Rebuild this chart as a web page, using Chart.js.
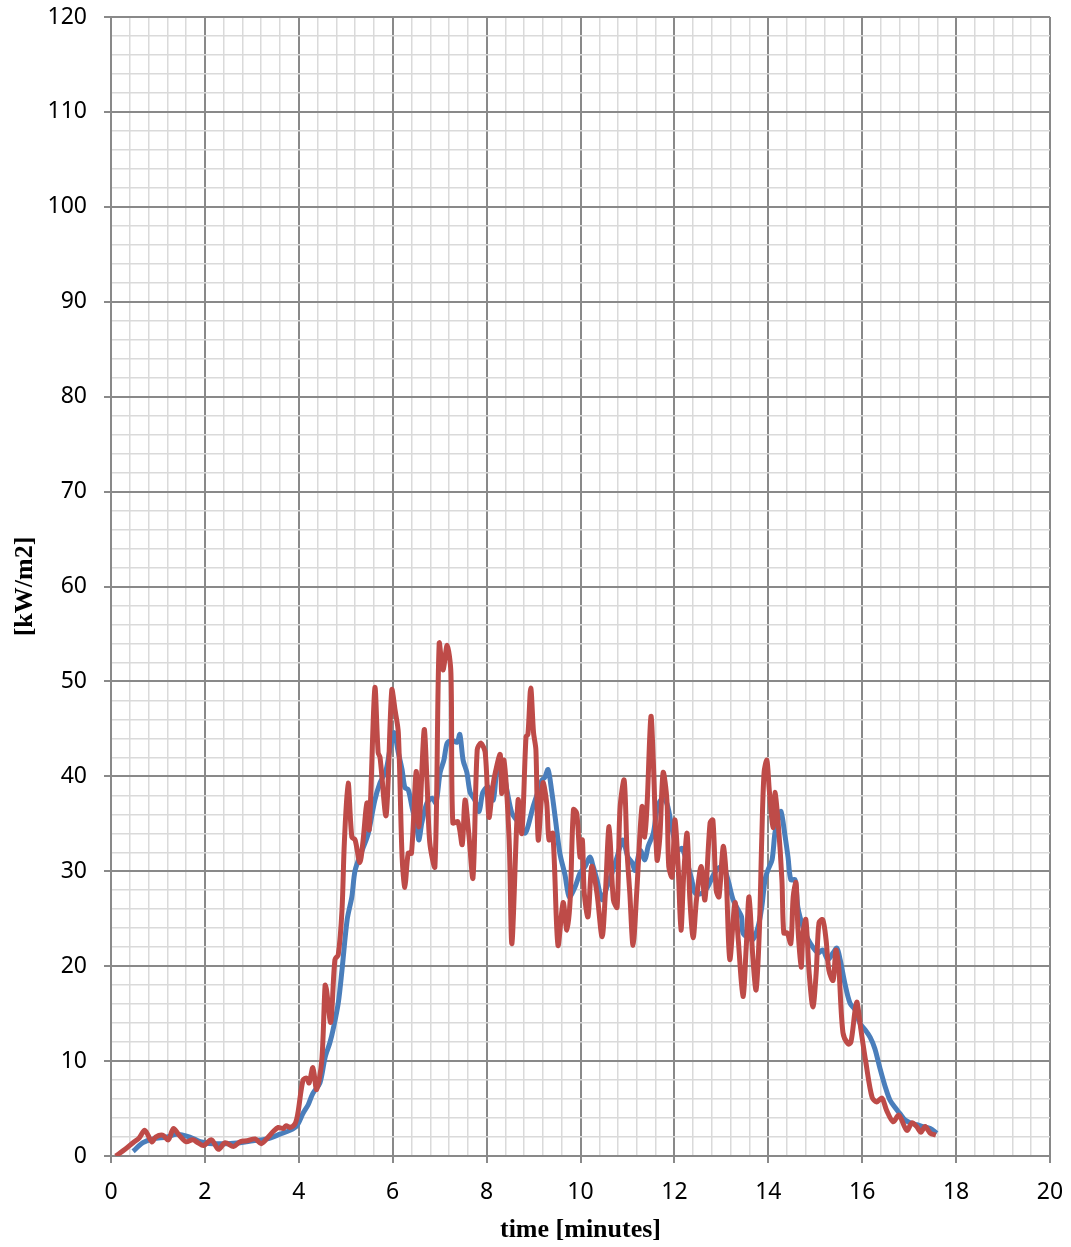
<!DOCTYPE html>
<html>
<head>
<meta charset="utf-8">
<script src="https://cdn.jsdelivr.net/npm/chart.js@4.4.1/dist/chart.umd.min.js"></script>
<style>
  body { margin: 0; background: #fff; }
</style>
</head>
<body>
<canvas id="heatChart" width="1071" height="1247"></canvas>
<script>
// red series (drawn on top)
const redTime = [0.10, 0.30, 0.47, 0.60, 0.72, 0.87, 0.95, 1.10, 1.22, 1.33, 1.45, 1.60, 1.74, 1.85, 1.97, 2.14, 2.29, 2.43, 2.61, 2.75, 2.90, 3.07, 3.20, 3.35, 3.46, 3.56, 3.67, 3.73, 3.81, 3.92, 3.98, 4.09, 4.17, 4.22, 4.30, 4.38, 4.49, 4.56, 4.59, 4.68, 4.77, 4.84, 4.92, 4.97, 5.05, 5.13, 5.20, 5.30, 5.37, 5.45, 5.50, 5.62, 5.69, 5.73, 5.86, 5.98, 6.05, 6.12, 6.20, 6.26, 6.33, 6.40, 6.50, 6.56, 6.67, 6.73, 6.79, 6.90, 6.99, 7.07, 7.16, 7.24, 7.28, 7.39, 7.48, 7.54, 7.62, 7.71, 7.80, 7.88, 7.97, 8.05, 8.13, 8.19, 8.29, 8.32, 8.37, 8.48, 8.54, 8.67, 8.75, 8.84, 8.88, 8.94, 9.00, 9.05, 9.10, 9.20, 9.28, 9.33, 9.41, 9.52, 9.63, 9.71, 9.78, 9.85, 9.92, 9.99, 10.04, 10.08, 10.16, 10.24, 10.35, 10.46, 10.53, 10.61, 10.70, 10.78, 10.84, 10.93, 10.99, 11.05, 11.12, 11.20, 11.31, 11.37, 11.42, 11.50, 11.55, 11.63, 11.69, 11.76, 11.84, 11.88, 11.95, 12.01, 12.08, 12.14, 12.20, 12.27, 12.33, 12.40, 12.47, 12.57, 12.65, 12.76, 12.82, 12.89, 12.95, 13.04, 13.10, 13.18, 13.29, 13.36, 13.46, 13.53, 13.59, 13.67, 13.74, 13.81, 13.86, 13.91, 13.97, 14.02, 14.10, 14.14, 14.21, 14.29, 14.33, 14.40, 14.48, 14.53, 14.59, 14.63, 14.70, 14.74, 14.80, 14.87, 14.95, 15.02, 15.08, 15.16, 15.23, 15.29, 15.38, 15.44, 15.50, 15.59, 15.70, 15.76, 15.85, 15.89, 15.97, 16.08, 16.21, 16.31, 16.42, 16.52, 16.66, 16.78, 16.95, 17.06, 17.16, 17.25, 17.34, 17.45, 17.57];
const redValues = [0.0, 0.7, 1.4, 1.9, 2.7, 1.5, 2.0, 2.2, 1.7, 2.9, 2.2, 1.5, 1.7, 1.4, 1.1, 1.7, 0.7, 1.4, 1.0, 1.5, 1.6, 1.8, 1.3, 2.0, 2.6, 3.0, 2.9, 3.2, 3.0, 3.4, 4.5, 8.0, 8.2, 7.7, 9.3, 7.0, 10.1, 18.0, 17.5, 14.1, 20.7, 21.2, 25.9, 33.0, 39.3, 33.6, 33.3, 30.9, 33.3, 37.2, 34.4, 49.3, 42.5, 42.0, 35.9, 49.1, 47.0, 44.6, 31.5, 28.3, 31.9, 31.9, 40.5, 34.7, 44.9, 39.6, 33.0, 30.5, 54.0, 51.2, 53.8, 50.9, 35.1, 35.2, 32.8, 37.5, 34.0, 29.3, 42.8, 43.5, 42.5, 35.7, 38.9, 40.5, 42.3, 38.2, 41.7, 33.3, 22.4, 37.5, 34.0, 44.2, 44.4, 49.3, 44.6, 42.8, 33.3, 39.3, 37.2, 33.3, 34.0, 22.2, 26.7, 23.8, 27.0, 36.5, 36.1, 31.5, 33.3, 27.7, 25.2, 30.5, 27.7, 23.1, 27.7, 34.7, 27.0, 26.2, 36.5, 39.6, 32.2, 27.7, 22.2, 28.0, 36.8, 33.6, 37.2, 46.3, 41.7, 31.2, 33.6, 40.4, 37.5, 30.5, 29.4, 35.4, 30.5, 23.8, 29.8, 34.0, 27.0, 23.0, 27.0, 30.5, 27.0, 35.1, 35.4, 28.0, 27.3, 32.6, 29.8, 20.7, 26.7, 22.8, 16.8, 22.0, 27.3, 21.0, 17.5, 23.8, 33.3, 40.4, 41.7, 38.6, 34.6, 38.3, 35.1, 29.1, 23.5, 23.5, 22.4, 27.3, 28.8, 24.1, 19.9, 23.5, 24.9, 19.3, 15.7, 19.3, 24.6, 24.9, 22.8, 19.6, 18.5, 21.7, 19.9, 13.0, 11.8, 12.0, 15.4, 16.2, 13.4, 9.8, 6.2, 5.7, 6.1, 4.8, 3.6, 4.3, 2.7, 3.5, 3.1, 2.5, 3.1, 2.4, 2.2];

// blue series
const blueTime = [0.47, 0.68, 0.90, 1.19, 1.40, 1.68, 1.90, 2.17, 2.47, 2.75, 3.02, 3.32, 3.60, 3.81, 3.96, 4.09, 4.20, 4.30, 4.45, 4.56, 4.66, 4.73, 4.84, 4.92, 5.03, 5.13, 5.20, 5.35, 5.48, 5.62, 5.73, 5.86, 5.94, 6.03, 6.12, 6.20, 6.26, 6.33, 6.41, 6.52, 6.56, 6.62, 6.73, 6.84, 6.92, 7.01, 7.09, 7.16, 7.26, 7.37, 7.43, 7.50, 7.58, 7.65, 7.75, 7.84, 7.92, 8.03, 8.14, 8.22, 8.33, 8.43, 8.54, 8.64, 8.73, 8.82, 8.88, 8.99, 9.09, 9.18, 9.24, 9.31, 9.39, 9.46, 9.56, 9.67, 9.76, 9.88, 9.99, 10.10, 10.20, 10.27, 10.35, 10.46, 10.56, 10.67, 10.78, 10.90, 11.01, 11.10, 11.16, 11.27, 11.37, 11.44, 11.55, 11.63, 11.71, 11.80, 11.86, 11.97, 12.06, 12.16, 12.27, 12.37, 12.44, 12.55, 12.69, 12.82, 12.93, 13.04, 13.14, 13.25, 13.36, 13.43, 13.46, 13.57, 13.67, 13.78, 13.86, 13.93, 13.99, 14.08, 14.14, 14.21, 14.27, 14.36, 14.42, 14.48, 14.57, 14.63, 14.74, 14.85, 14.95, 15.06, 15.16, 15.27, 15.38, 15.46, 15.53, 15.63, 15.74, 15.85, 15.95, 16.06, 16.17, 16.27, 16.38, 16.49, 16.59, 16.70, 16.80, 16.91, 17.02, 17.16, 17.29, 17.45, 17.59];
const blueValues = [0.5, 1.4, 1.8, 2.0, 2.3, 2.0, 1.5, 1.3, 1.3, 1.4, 1.6, 1.8, 2.3, 2.7, 3.2, 4.5, 5.4, 6.6, 7.7, 10.4, 11.9, 13.3, 16.1, 19.6, 24.9, 27.3, 30.1, 32.2, 34.0, 37.5, 39.3, 40.7, 42.8, 44.6, 42.5, 40.7, 38.8, 38.6, 36.8, 34.4, 33.3, 35.1, 37.2, 37.7, 37.2, 40.4, 41.7, 43.5, 43.8, 43.6, 44.4, 41.7, 40.4, 38.3, 37.5, 36.3, 38.3, 38.9, 37.5, 40.4, 41.0, 38.6, 36.1, 35.4, 34.7, 34.0, 34.7, 36.8, 38.3, 39.6, 39.9, 40.7, 38.3, 35.7, 31.9, 29.6, 27.3, 28.3, 29.8, 30.5, 31.5, 30.5, 29.1, 27.0, 28.3, 29.8, 31.5, 33.3, 31.5, 30.9, 30.1, 32.2, 31.2, 32.6, 34.0, 36.5, 37.5, 37.5, 36.8, 34.0, 32.2, 32.4, 30.9, 29.1, 27.7, 27.6, 28.2, 29.5, 30.3, 30.5, 29.1, 27.0, 25.9, 25.2, 23.5, 23.0, 22.8, 24.1, 26.2, 29.1, 30.1, 31.2, 34.0, 35.7, 36.3, 33.6, 31.5, 29.1, 29.1, 26.2, 24.1, 22.8, 22.0, 21.4, 21.7, 20.7, 21.4, 21.9, 20.7, 18.2, 16.1, 15.4, 14.0, 13.3, 12.5, 11.3, 9.2, 7.3, 5.9, 5.1, 4.5, 3.8, 3.5, 3.3, 3.1, 2.9, 2.4];

const xLabels = [0, 2, 4, 6, 8, 10, 12, 14, 16, 18, 20];
const yLabels = [0, 10, 20, 30, 40, 50, 60, 70, 80, 90, 100, 110, 120];

const toPoints = (ts, vs) => ts.map((t, i) => ({ x: t, y: vs[i] }));
const isMajor = (v, list) => list.some((m) => Math.abs(m - v) < 1e-6);

const majorGrid = "#898989";
const minorGrid = "#dadada";
const tickFont = { family: "'Noto Sans', sans-serif", size: 23 };
const titleFont = { family: "'Liberation Serif', serif", size: 26, weight: "bold" };

const ctx = document.getElementById("heatChart").getContext("2d");
new Chart(ctx, {
  type: "line",
  data: {
    datasets: [
      {
        label: "red",
        data: toPoints(redTime, redValues),
        borderColor: "#be4b48",
        borderWidth: 5,
        pointRadius: 0,
        tension: 0.3,
        fill: false,
      },
      {
        label: "blue",
        data: toPoints(blueTime, blueValues),
        borderColor: "#4a7ebb",
        borderWidth: 5,
        pointRadius: 0,
        tension: 0.3,
        fill: false,
      },
    ],
  },
  options: {
    responsive: false,
    animation: false,
    layout: { padding: { top: 17, right: 21, left: 0, bottom: 0 } },
    plugins: { legend: { display: false }, tooltip: { enabled: false } },
    scales: {
      x: {
        type: "linear",
        min: 0,
        max: 20,
        // fixed size, and no extra room for the end labels
        afterFit: (scale) => {
          scale.height = 91;
          scale.paddingLeft = 0;
          scale.paddingRight = 0;
        },
        ticks: {
          stepSize: 0.4,
          autoSkip: false,
          maxRotation: 0,
          padding: 16,
          color: "#000",
          font: tickFont,
          callback: (v) => (isMajor(v, xLabels) ? Math.round(v) : ""),
        },
        grid: {
          color: (c) => (isMajor(c.tick.value, xLabels) ? majorGrid : minorGrid),
          lineWidth: (c) => (isMajor(c.tick.value, xLabels) ? 2 : 1.5),
          tickColor: (c) => (isMajor(c.tick.value, xLabels) ? majorGrid : "rgba(0,0,0,0)"),
          tickLength: 7,
        },
        border: { color: majorGrid, width: 2 },
        title: {
          display: true,
          text: "time [minutes]",
          color: "#000",
          font: titleFont,
          padding: { top: 0, bottom: 1 },
        },
      },
      y: {
        type: "linear",
        min: 0,
        max: 120,
        afterFit: (scale) => {
          scale.width = 111;
          scale.paddingTop = 0;
          scale.paddingBottom = 0;
        },
        ticks: {
          stepSize: 2,
          autoSkip: false,
          padding: 17,
          color: "#000",
          font: tickFont,
          callback: (v) => (isMajor(v, yLabels) ? Math.round(v) : ""),
        },
        grid: {
          color: (c) => (isMajor(c.tick.value, yLabels) ? majorGrid : minorGrid),
          lineWidth: (c) => (isMajor(c.tick.value, yLabels) ? 2 : 1.5),
          tickColor: (c) => (isMajor(c.tick.value, yLabels) ? majorGrid : "rgba(0,0,0,0)"),
          tickLength: 7,
        },
        border: { color: majorGrid, width: 2 },
        title: {
          display: true,
          text: "[kW/m2]",
          color: "#000",
          font: titleFont,
          padding: { top: 10, bottom: 0 },
        },
      },
    },
  },
});
</script>
</body>
</html>
